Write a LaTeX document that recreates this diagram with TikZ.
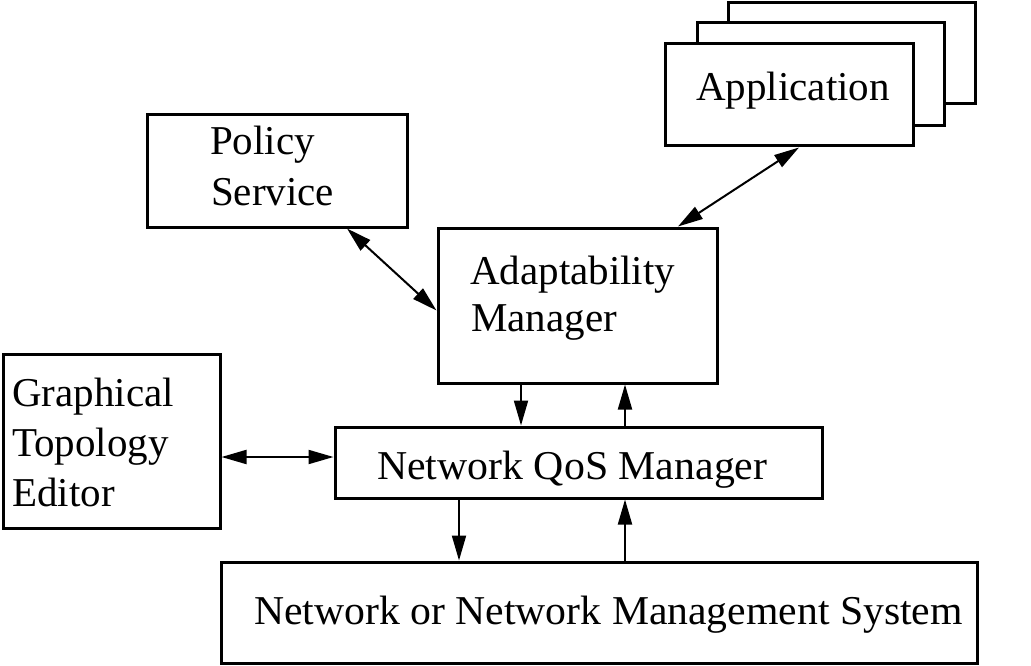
\documentclass[tikz,border=0pt]{standalone}
\usepackage{fontspec}
\usepackage{graphicx}
\setmainfont{Liberation Serif}
\usetikzlibrary{arrows.meta,calc}
\begin{document}
\begin{tikzpicture}[x=1pt,y=-1pt,
  box/.style={draw,line width=3pt,fill=white,inner sep=0pt},
  lbl/.style={anchor=base west,inner sep=0pt,font=\fontsize{41}{49}\selectfont},
  conn/.style={line width=2pt,-{Triangle[length=25pt,width=14pt]}},
  dbl/.style={line width=2pt,{Triangle[length=25pt,width=14pt]}-{Triangle[length=25pt,width=14pt]}}]
\useasboundingbox (0,0) rectangle (1031,666);
% application stack
\node[box,minimum width=247pt,minimum height=101pt] (appback) at (851.5,53.5) {};
\node[box,minimum width=247pt,minimum height=103pt] (appmid) at (820.5,74.5) {};
\node[box,minimum width=248pt,minimum height=102pt] (app) at (789,95) {};
% other boxes
\node[box,minimum width=260pt,minimum height=112pt] (policy) at (277,171) {};
\node[box,minimum width=279pt,minimum height=155pt] (adapt) at (577.5,305.5) {};
\node[box,minimum width=217pt,minimum height=174pt] (gte) at (111.5,441) {};
\node[box,minimum width=487pt,minimum height=71pt] (qos) at (578.5,462.5) {};
\node[box,minimum width=756pt,minimum height=101pt] (nms) at (599,612.5) {};
% labels
\node[lbl] (tapp) at (696,101) {Application};
\node[lbl] (tpol1) at (210,155) {Policy};
\node[lbl] (tpol2) at (211,205) {Service};
\node[lbl] (tad1) at (470,284) {Adaptability};
\node[lbl] (tad2) at (471,331) {Manager};
\node[lbl] (tg1) at (12,406) {Graphical};
\node[lbl] (tg2) at (12,456) {Topology};
\node[lbl] (tg3) at (12,506) {Editor};
\node[lbl] (tq) at (377,479) {\scalebox{1.02}[1]{Network QoS Manager}};
\node[lbl] (tn) at (254,624) {\scalebox{1.017}[1]{Network or Network Management System}};
% connectors
\draw[dbl] ([xshift=100.5pt]adapt.north) -- ([xshift=10pt]app.south);
\draw[dbl] ([xshift=70pt]policy.south) -- ([yshift=-5pt]adapt.west);
\coordinate (qw) at ([yshift=5.5pt]qos.west);
\draw[dbl] (gte.east |- qw) -- (qw);
\draw[conn] ([xshift=-56.5pt]adapt.south) -- ([xshift=-56.5pt]adapt.south |- qos.north);
\draw[conn] ([xshift=47.5pt]adapt.south |- qos.north) -- ([xshift=47.5pt]adapt.south);
\draw[conn] ([xshift=-119.5pt]qos.south) -- ([xshift=-119.5pt]qos.south |- nms.north);
\draw[conn] ([xshift=46.5pt]qos.south |- nms.north) -- ([xshift=46.5pt]qos.south);
\end{tikzpicture}
\end{document}
